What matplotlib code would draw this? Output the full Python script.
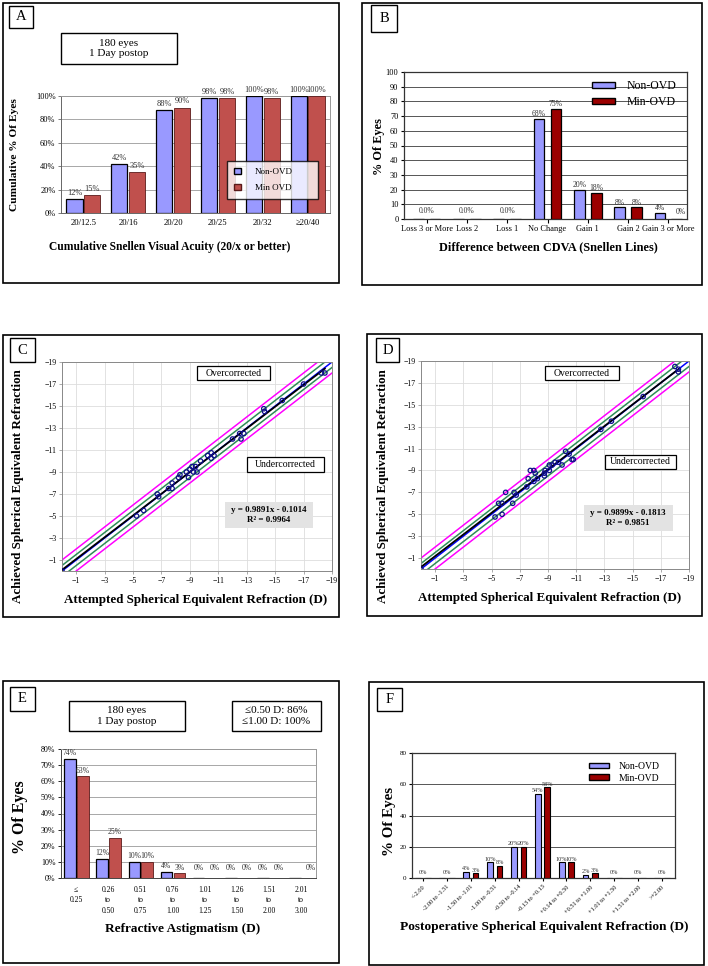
import numpy as np
import matplotlib
matplotlib.use("Agg")
import matplotlib.pyplot as plt
from matplotlib.patches import Rectangle, Patch

plt.rcParams['font.family'] = ['Liberation Serif', 'DejaVu Serif']

# ---- data ----
a_cats = ["20/12.5", "20/16", "20/20", "20/25", "20/32", "\u226520/40"]
a_non = [12, 42, 88, 98, 100, 100]
a_min = [15, 35, 90, 98, 98, 100]

b_cats = ["Loss 3 or More", "Loss 2", "Loss 1", "No Change", "Gain 1", "Gain 2", "Gain 3 or More"]
b_non = [0, 0, 0, 68, 20, 8, 4]
b_min = [0, 0, 0, 75, 18, 8, 0]

c_att = [0, -5.25, -5.75, -6.7, -6.8, -7.5, -7.75, -7.75, -8.2, -8.3, -8.75, -8.9, -9.0,
         -9.15, -9.25, -9.4, -9.5, -9.75, -10.25, -10.5, -10.5, -10.7, -12.0, -12.5, -12.6,
         -12.8, -14.2, -14.25, -15.5, -17.0, -18.25, -18.5]
c_ach = [0, -5.0, -5.5, -7.0, -6.75, -7.5, -7.5, -8.0, -8.5, -8.75, -9.0, -8.5, -9.25,
         -9.5, -9.0, -9.5, -9.0, -10.0, -10.5, -10.75, -10.25, -10.5, -12.0, -12.5, -12.0,
         -12.5, -14.75, -14.5, -15.5, -17.0, -18.0, -18.0]
c_fit = (0.9891, -0.1014)

d_att = [0, -5.25, -5.5, -5.75, -5.75, -6.0, -6.5, -6.6, -6.75, -7.5, -7.6, -7.75, -8.0,
         -8.1, -8.0, -8.25, -8.75, -8.75, -8.8, -9.1, -9.1, -9.3, -9.5, -9.75, -10.0,
         -10.25, -10.5, -10.7, -10.8, -12.75, -13.5, -15.75, -18.0, -18.25, -18.25]
d_ach = [0, -4.75, -6.0, -6.0, -5.0, -7.0, -6.0, -7.0, -6.75, -7.5, -8.25, -9.0, -9.0,
         -8.75, -8.0, -8.25, -8.5, -8.75, -9.0, -9.0, -9.5, -9.5, -9.75, -9.75, -9.5,
         -10.75, -10.5, -10.0, -10.0, -12.75, -13.5, -15.75, -18.5, -18.25, -18.0]
d_fit = (0.9899, -0.1813)

e_cats = ["\u2264\n0.25", "0.26\nto\n0.50", "0.51\nto\n0.75", "0.76\nto\n1.00",
          "1.01\nto\n1.25", "1.26\nto\n1.50", "1.51\nto\n2.00", "2.01\nto\n3.00"]
e_non = [74, 12, 10, 4, 0, 0, 0, 0]
e_min = [63, 25, 10, 3, 0, 0, 0, 0]

f_cats = ["<-2.00", "-2.00 to -1.51", "-1.50 to -1.01", "-1.00 to -0.51", "-0.50 to -0.14",
          "-0.13 to +0.13", "+0.14 to +0.50", "+0.51 to +1.00", "+1.01 to +1.50",
          "+1.51 to +2.00", ">+2.00"]
f_non = [0, 0, 4, 10, 20, 54, 10, 2, 0, 0, 0]
f_min = [0, 0, 3, 8, 20, 58, 10, 3, 0, 0, 0]

BLUE = "#9999FF"
RED_A = "#C0504D"
RED_B = "#9B0000"

W, H = 708, 966
fig = plt.figure(figsize=(W / 100, H / 100), dpi=100)


def place(x0, y0, x1, y1):
    return fig.add_axes([x0 / W, 1 - y1 / H, (x1 - x0) / W, (y1 - y0) / H])


def frame(x0, y0, x1, y1, lw=1.0, fc="none", ec="black"):
    fig.add_artist(Rectangle((x0 / W, 1 - y1 / H), (x1 - x0) / W, (y1 - y0) / H,
                             transform=fig.transFigure, facecolor=fc, edgecolor=ec, lw=lw))


def box(x0, y0, x1, y1, text, size, bold=False, fc="white", lw=1.0):
    frame(x0, y0, x1, y1, lw=lw, fc=fc)
    fig.text((x0 + x1) / 2 / W, 1 - (y0 + y1) / 2 / H, text, ha="center", va="center",
             fontsize=size, fontweight="bold" if bold else "normal", linespacing=1.2)


def ftext(x, y, text, size, rot=0):
    fig.text(x / W, 1 - y / H, text, ha="center", va="center", fontsize=size,
             fontweight="bold", rotation=rot)


# panel borders
frame(3, 3, 339, 283, lw=1.2)
frame(362, 3, 702, 285, lw=1.2)
frame(3, 335, 339, 617, lw=1.2)
frame(367, 334, 702, 616, lw=1.2)
frame(3, 681, 339, 963, lw=1.2)
frame(369, 682, 704, 965, lw=1.2)

# ---------------- A ----------------
ax = place(61, 96, 330, 213)
x = np.arange(len(a_cats))
ax.bar(x - 0.2, a_non, 0.36, color=BLUE, edgecolor="black", lw=0.9, zorder=3)
ax.bar(x + 0.2, a_min, 0.36, color=RED_A, edgecolor="#5a1a1a", lw=0.6, zorder=3)
for i in range(len(x)):
    ax.text(x[i] - 0.2, a_non[i] + 2, f"{a_non[i]}%", ha="center", va="bottom", fontsize=6, color="#333333")
    ax.text(x[i] + 0.2, a_min[i] + 2, f"{a_min[i]}%", ha="center", va="bottom", fontsize=6, color="#333333")
ax.set_xlim(-0.5, 5.5)
ax.set_ylim(0, 100)
ax.set_yticks(range(0, 101, 20))
ax.set_yticklabels([f"{v}%" for v in range(0, 101, 20)], fontsize=6)
ax.set_xticks(x)
ax.set_xticklabels(a_cats, fontsize=6.2)
ax.tick_params(length=2, width=0.6, color="#666666", pad=2)
ax.tick_params(axis="x", length=0, pad=4)
ax.grid(axis="y", color="#999999", lw=0.6, zorder=0)
for s in ax.spines.values():
    s.set_color("#999999")
    s.set_linewidth(0.7)
ax.spines["left"].set_color("#666666")
ax.spines["bottom"].set_color("#666666")
ax.legend(handles=[Patch(fc=BLUE, ec="black", label="Non-OVD"),
                   Patch(fc=RED_A, ec="#5a1a1a", label="Min OVD")],
          loc="center", bbox_to_anchor=(227 / W, 1 - 197 / H, 91 / W, 34 / H),
          bbox_transform=fig.transFigure, mode="expand", fontsize=6.5, frameon=True,
          fancybox=False, edgecolor="black", handlelength=0.7, handleheight=0.7,
          borderpad=0.8, labelspacing=0.8, handletextpad=1.6, borderaxespad=0)
box(9, 6, 33, 28, "A", 10.5)
box(61, 33, 177, 64, "180 eyes\n1 Day postop", 8)
ftext(15, 155, "Cumulative % Of Eyes", 8.2, rot=90)
ftext(170, 247, "Cumulative Snellen Visual Acuity (20/x or better)", 8.3)

# ---------------- B ----------------
ax = place(404, 72, 687, 219)
x = np.arange(len(b_cats))
ax.bar(x - 0.21, b_non, 0.27, color=BLUE, edgecolor="black", lw=0.9, zorder=3)
ax.bar(x + 0.21, b_min, 0.27, color=RED_B, edgecolor="black", lw=0.9, zorder=3)
for i in range(len(x)):
    if b_non[i] == 0 and b_min[i] == 0:
        ax.text(x[i], 3, "0.0%", ha="center", va="bottom", fontsize=5.5, color="#333333")
    else:
        ax.text(x[i] - 0.21, b_non[i] + 0.5, f"{b_non[i]}%", ha="center", va="bottom", fontsize=5.5, color="#333333")
        ax.text(x[i] + 0.21 + (0.1 if b_min[i] == 0 else 0), b_min[i] + 0.5 + (1.5 if b_min[i] == 0 else 0),
                f"{b_min[i]}%", ha="center", va="bottom", fontsize=5.5, color="#333333")
ax.set_xlim(-0.56, 6.46)
ax.set_ylim(0, 100)
ax.set_yticks(range(0, 101, 10))
ax.tick_params(axis="y", labelsize=6, length=2.5, width=0.8, pad=1.5)
ax.set_xticks(x)
ax.set_xticklabels(b_cats, fontsize=6)
ax.tick_params(axis="x", length=3, width=0.8, pad=1.5)
ax.grid(axis="y", color="#555555", lw=0.7, zorder=0)
for s in ax.spines.values():
    s.set_color("#333333")
    s.set_linewidth(0.9)
ax.legend(handles=[Patch(fc=BLUE, ec="black", label="Non-OVD"),
                   Patch(fc=RED_B, ec="black", label="Min-OVD")],
          loc="upper right", bbox_to_anchor=(0.985, 0.985), fontsize=8.5, frameon=False,
          handlelength=2.0, handleheight=0.45, labelspacing=0.35, handletextpad=1.0,
          borderaxespad=0.1)
box(371, 5, 397, 32, "B", 10.5)
ftext(379, 147, "% Of Eyes", 8.8, rot=90)
ftext(548, 247, "Difference between CDVA (Snellen Lines)", 8.8)


# ---------------- C / D ----------------
def scatter_panel(ax, att, ach, fit):
    ref = np.array([0.5, -20])
    ax.plot(ref, ref - 1, color="#FF00FF", lw=1.1, zorder=2)
    ax.plot(ref, ref + 1, color="#FF00FF", lw=1.1, zorder=2)
    ax.plot(ref, ref - 0.5, color="#2E8B57", lw=1.1, zorder=2)
    ax.plot(ref, ref + 0.5, color="#2E8B57", lw=1.1, zorder=2)
    ax.plot(ref, ref, color="#0000FF", lw=1.1, zorder=2)
    fx = np.array([0, min(att)])
    ax.plot(fx, fit[0] * fx + fit[1], color="black", lw=1.3, zorder=3)
    ax.scatter(att, ach, s=10, facecolor="none", edgecolor="#10108A", lw=0.9, zorder=4)
    ax.set_xlim(0, -19)
    ax.set_ylim(0, -19)
    ticks = list(range(-1, -20, -2))
    ax.set_xticks(ticks)
    ax.set_yticks(ticks)
    ax.tick_params(labelsize=5.6, length=2, width=0.5, color="#888888", pad=2)
    ax.grid(color="#DDDDDD", lw=0.6, zorder=0)
    for s in ax.spines.values():
        s.set_color("#888888")
        s.set_linewidth(0.7)


ax = place(62, 362, 332, 571)
scatter_panel(ax, c_att, c_ach, c_fit)
box(197, 366, 270, 380, "Overcorrected", 7, lw=0.9)
box(247, 457, 324, 472, "Undercorrected", 7, lw=0.9)
frame(225, 502, 313, 528, lw=0, fc="#E3E3E3", ec="none")
ftext(269, 515, "y = 0.9891x - 0.1014\nR\u00b2 = 0.9964", 6.5)
box(10, 338, 35, 362, "C", 10.5)
ftext(18, 486, "Achieved Spherical Equivalent Refraction", 9.4, rot=90)
ftext(196, 600, "Attempted Spherical Equivalent Refraction (D)", 9.4)

ax = place(421, 361, 689, 569)
scatter_panel(ax, d_att, d_ach, d_fit)
box(545, 366, 619, 380, "Overcorrected", 7, lw=0.9)
box(605, 455, 676, 469, "Undercorrected", 7, lw=0.9)
frame(584, 505, 673, 531, lw=0, fc="#E3E3E3", ec="none")
ftext(628, 518, "y = 0.9899x - 0.1813\nR\u00b2 = 0.9851", 6.5)
box(376, 338, 399, 362, "D", 10.5)
ftext(383, 486, "Achieved Spherical Equivalent Refraction", 9.4, rot=90)
ftext(550, 598, "Attempted Spherical Equivalent Refraction (D)", 9.4)

# ---------------- E ----------------
ax = place(61, 749, 316, 878)
x = np.arange(len(e_cats))
ax.bar(x - 0.19, e_non, 0.36, color=BLUE, edgecolor="black", lw=0.9, zorder=3)
ax.bar(x + 0.21, e_min, 0.36, color=RED_A, edgecolor="#5a1a1a", lw=0.6, zorder=3)
for i in range(len(x)):
    if e_non[i] == 0 and e_min[i] == 0:
        if i < 7:
            ax.text(x[i] - 0.19, 3.5, "0%", ha="center", va="bottom", fontsize=5.5, color="#333333")
        ax.text(x[i] + 0.3, 3.5, "0%", ha="center", va="bottom", fontsize=5.5, color="#333333")
    else:
        ax.text(x[i] - 0.19, e_non[i] + 1, f"{e_non[i]}%", ha="center", va="bottom", fontsize=5.5, color="#333333")
        ax.text(x[i] + 0.21, e_min[i] + 1, f"{e_min[i]}%", ha="center", va="bottom", fontsize=5.5, color="#333333")
ax.set_xlim(-0.47, 7.46)
ax.set_ylim(0, 80)
ax.set_yticks(range(0, 81, 10))
ax.set_yticklabels([f"{v}%" for v in range(0, 81, 10)], fontsize=5.8)
ax.set_xticks(x)
ax.set_xticklabels(e_cats, fontsize=5.5, linespacing=1.35)
ax.tick_params(axis="y", length=2, width=0.6, pad=2)
ax.tick_params(axis="x", length=0, pad=6)
ax.grid(axis="y", color="#999999", lw=0.6, zorder=0)
for s in ax.spines.values():
    s.set_color("#999999")
    s.set_linewidth(0.7)
ax.spines["left"].set_color("#444444")
ax.spines["bottom"].set_color("#444444")
box(10, 687, 35, 711, "E", 10.5)
box(69, 701, 185, 731, "180 eyes\n1 Day postop", 8)
box(232, 701, 321, 731, "\u22640.50 D: 86%\n\u22641.00 D: 100%", 8)
ftext(20, 817, "% Of Eyes", 11.5, rot=90)
ftext(183, 929, "Refractive Astigmatism (D)", 9.5)

# ---------------- F ----------------
ax = place(412, 753, 675, 878)
x = np.arange(len(f_cats))
ax.bar(x - 0.2, f_non, 0.24, color=BLUE, edgecolor="black", lw=0.8, zorder=3)
ax.bar(x + 0.2, f_min, 0.24, color=RED_B, edgecolor="black", lw=0.8, zorder=3)
for i in range(len(x)):
    if f_non[i] == 0 and f_min[i] == 0:
        ax.text(x[i], 2, "0%", ha="center", va="bottom", fontsize=4.5, color="#333333")
    else:
        ax.text(x[i] - 0.2, f_non[i] + 0.3, f"{f_non[i]}%", ha="center", va="bottom", fontsize=4.5, color="#333333")
        ax.text(x[i] + 0.2, f_min[i] + 0.3, f"{f_min[i]}%", ha="center", va="bottom", fontsize=4.5, color="#333333")
ax.set_xlim(-0.46, 10.54)
ax.set_ylim(0, 80)
ax.set_yticks(range(0, 81, 20))
ax.tick_params(axis="y", labelsize=5, length=2.5, width=0.8, pad=1.5)
ax.set_xticks(x)
ax.set_xticklabels(f_cats, fontsize=4.5, rotation=45, ha="right", rotation_mode="anchor")
ax.tick_params(axis="x", length=2.5, width=0.8, pad=2)
ax.grid(axis="y", color="#555555", lw=0.7, zorder=0)
for s in ax.spines.values():
    s.set_color("#333333")
    s.set_linewidth(0.9)
ax.legend(handles=[Patch(fc=BLUE, ec="black", label="Non-OVD"),
                   Patch(fc=RED_B, ec="black", label="Min-OVD")],
          loc="upper right", bbox_to_anchor=(0.96, 0.97), fontsize=7, frameon=False,
          handlelength=2.0, handleheight=0.45, labelspacing=0.3, handletextpad=1.0,
          borderaxespad=0.1)
box(377, 688, 402, 711, "F", 10.5)
ftext(390, 821, "% Of Eyes", 10.8, rot=90)
ftext(544, 927, "Postoperative Spherical Equivalent Refraction (D)", 9.6)

fig.savefig("out.png", dpi=100)
